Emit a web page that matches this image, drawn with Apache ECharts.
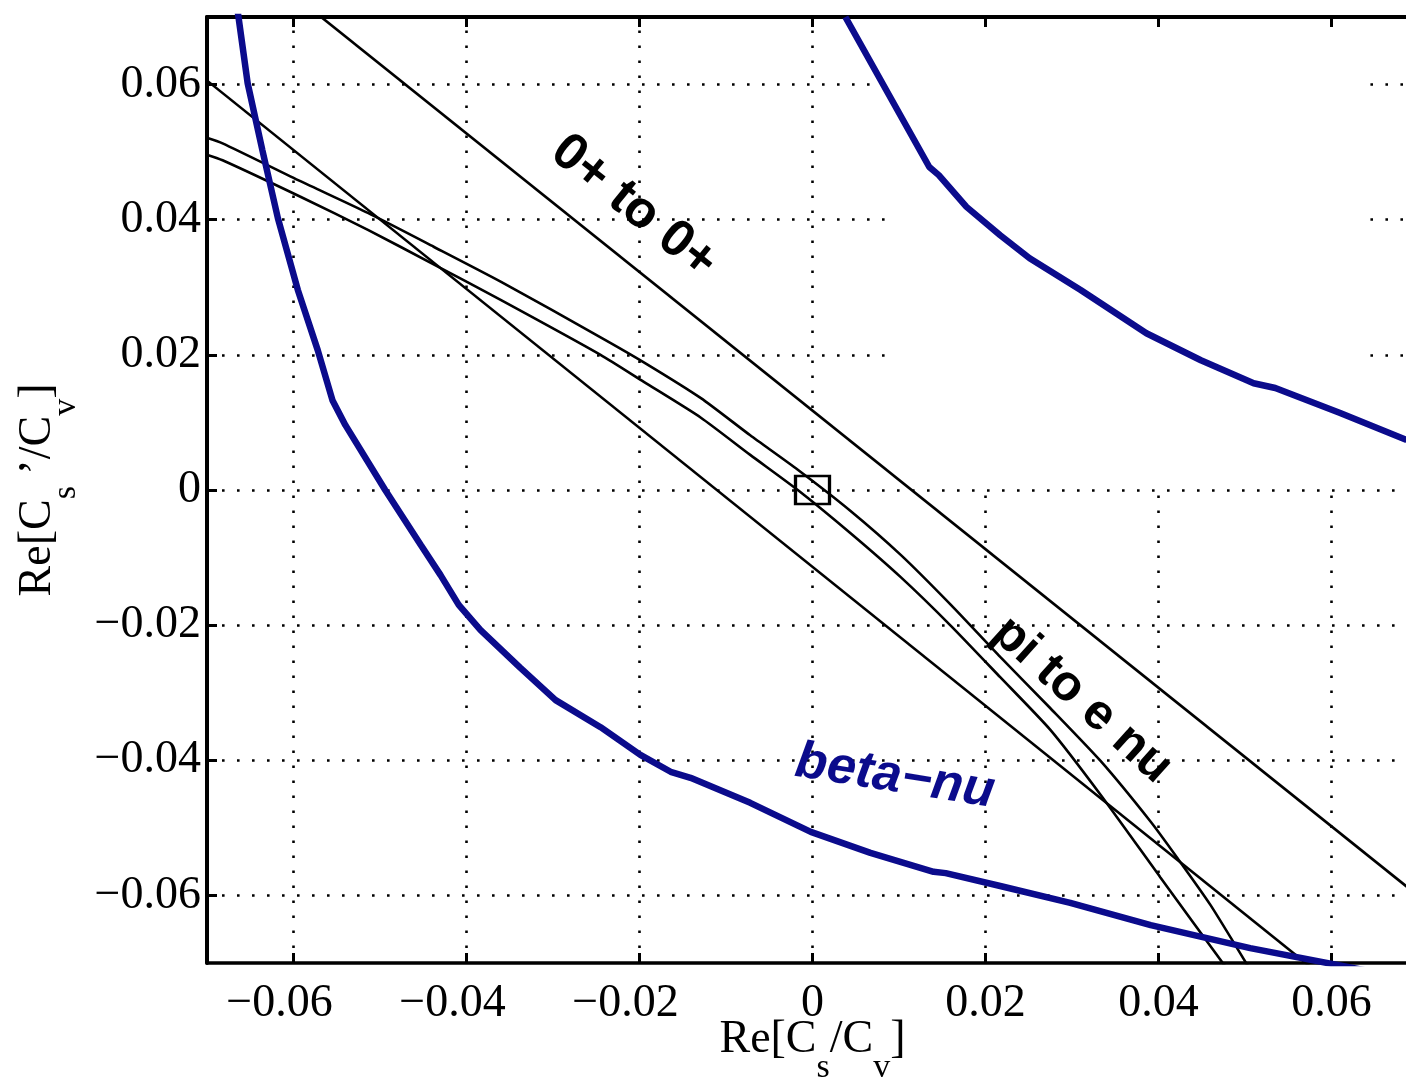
<!DOCTYPE html>
<html><head><meta charset="utf-8">
<script src="https://cdn.jsdelivr.net/npm/echarts@6/dist/echarts.min.js"></script>
<style>html,body{margin:0;padding:0;background:#fff}#c{width:1406px;height:1077px}</style>
</head><body><div id="c"></div>
<script>
// ---- data ----
const xTicks = [-0.06, -0.04, -0.02, 0, 0.02, 0.04, 0.06];
const yTicks = [-0.06, -0.04, -0.02, 0, 0.02, 0.04, 0.06];
const axisMin = -0.07, axisMax = 0.07;
// blank (erased) patch of the grid in the upper right
const gridGapX = [0.0085, 0.0645];
const gridGapYmin = 0.001;

// beta-nu constraint (blue), lower-left branch
const betaNuLower = [
  [-0.0665, 0.0713], [-0.0653, 0.0602], [-0.0636, 0.0503], [-0.0618, 0.0402],
  [-0.0595, 0.0296], [-0.0572, 0.0207], [-0.0555, 0.0133], [-0.0540, 0.0096],
  [-0.0494, 0.0000], [-0.0453, -0.0081], [-0.0430, -0.0126], [-0.0409, -0.0170],
  [-0.0384, -0.0207], [-0.0338, -0.0263], [-0.0297, -0.0311], [-0.0245, -0.0351],
  [-0.0199, -0.0392], [-0.0164, -0.0417], [-0.0141, -0.0426], [-0.0072, -0.0463],
  [-0.0002, -0.0506], [0.0067, -0.0537], [0.0140, -0.0565], [0.0154, -0.0567],
  [0.0217, -0.0586], [0.0298, -0.0611], [0.0391, -0.0644], [0.0506, -0.0678],
  [0.0672, -0.0719]
];
// beta-nu constraint (blue), upper-right branch
const betaNuUpper = [
  [0.0038, 0.0700], [0.0135, 0.0478], [0.0146, 0.0466], [0.0178, 0.0419],
  [0.0217, 0.0377], [0.0251, 0.0343], [0.0310, 0.0296], [0.0386, 0.0232],
  [0.0449, 0.0192], [0.0510, 0.0158], [0.0535, 0.0151], [0.0610, 0.0114],
  [0.0687, 0.0074]
];
// 0+ to 0+ band (straight lines)
const superallowedUpper = [[-0.0571, 0.0703], [0.0687, -0.0587]];
const superallowedLower = [[-0.0702, 0.0608], [0.0579, -0.0709]];
// pi to e nu band
const piUpper = [
  [-0.0702, 0.0522], [-0.0682, 0.0513], [-0.0592, 0.0457], [-0.0514, 0.0410],
  [-0.0438, 0.0360], [-0.0360, 0.0308], [-0.0245, 0.0226], [-0.0195, 0.0189],
  [-0.0129, 0.0136], [-0.0072, 0.0081], [-0.0017, 0.0030], [0.0044, -0.0031],
  [0.0102, -0.0096], [0.0160, -0.0170], [0.0217, -0.0247], [0.0275, -0.0323],
  [0.0333, -0.0401], [0.0391, -0.0491], [0.0422, -0.0545], [0.0460, -0.0614],
  [0.0506, -0.0710]
];
const piLower = [
  [-0.0702, 0.0497], [-0.0682, 0.0488], [-0.0592, 0.0434], [-0.0514, 0.0385],
  [-0.0438, 0.0334], [-0.0360, 0.0281], [-0.0245, 0.0200], [-0.0195, 0.0160],
  [-0.0129, 0.0107], [-0.0072, 0.0052], [-0.0017, 0.0000], [0.0044, -0.0064],
  [0.0102, -0.0129], [0.0160, -0.0201], [0.0217, -0.0277], [0.0275, -0.0355],
  [0.0333, -0.0451], [0.0402, -0.0573], [0.0480, -0.0710]
];
// Standard Model point
const smPoint = [[0, 0]];

// ---- styling ----
const BLUE = '#0b0b8c';
const SERIF = '"Liberation Serif", "Times New Roman", serif';
const SANS = '"Liberation Sans", Arial, sans-serif';

function fmt(v) {
  if (Math.abs(v) < 1e-9) return '0';
  const s = Math.abs(v).toFixed(2);
  return v < 0 ? '{neg|\u2212' + s + '}' : s;
}
function fmtY(v) {
  if (Math.abs(v) < 1e-9) return '0';
  const s = Math.abs(v).toFixed(2);
  return v < 0 ? '\u2212' + s : s;
}

// grid segments built from the tick arrays
const gridSegs = [];
xTicks.forEach(x => {
  if (x > gridGapX[0] && x < gridGapX[1]) gridSegs.push({coords: [[x, axisMin], [x, gridGapYmin]]});
  else gridSegs.push({coords: [[x, axisMin], [x, axisMax]]});
});
yTicks.forEach(y => {
  if (y > gridGapYmin) {
    gridSegs.push({coords: [[axisMin, y], [gridGapX[0], y]]});
    gridSegs.push({coords: [[gridGapX[1], y], [axisMax, y]]});
  } else gridSegs.push({coords: [[axisMin, y], [axisMax, y]]});
});

const nameStyle = {
  fontFamily: SERIF, fontSize: 46, color: '#000',
  rich: {
    n: {fontFamily: SERIF, fontSize: 46, lineHeight: 50, color: '#000'},
    s: {fontFamily: SERIF, fontSize: 34, lineHeight: 50, padding: [56, 0, 0, 0], color: '#000'}
  }
};

const chart = echarts.init(document.getElementById('c'), null, {renderer: 'canvas'});
const blackLine = {color: '#000', width: 2.6};
chart.setOption({
  animation: false,
  backgroundColor: '#fff',
  grid: {left: 207, top: 17, width: 1211, height: 946, containLabel: false, outerBoundsMode: 'none'},
  xAxis: [{
    type: 'value', min: axisMin, max: axisMax, position: 'bottom',
    axisLine: {show: true, onZero: false, lineStyle: {color: '#000', width: 3.5}},
    axisTick: {show: true, inside: true, length: 10, customValues: xTicks, lineStyle: {color: '#000', width: 3}},
    axisLabel: {show: true, customValues: xTicks, formatter: fmt, margin: 18,
      fontFamily: SERIF, fontSize: 46, color: '#000',
      rich: {neg: {fontFamily: SERIF, fontSize: 46, color: '#000', padding: [0, 28, 0, 0]}}},
    splitLine: {show: false},
    name: '{n|Re[C}{s|s}{n|/C}{s|v}{n|]}', nameLocation: 'middle', nameGap: 52,
    nameMoveOverlap: false,
    nameTextStyle: nameStyle
  }, {
    type: 'value', min: axisMin, max: axisMax, position: 'top',
    axisLine: {show: true, onZero: false, lineStyle: {color: '#000', width: 4}},
    axisTick: {show: true, inside: true, length: 10, customValues: xTicks, lineStyle: {color: '#000', width: 3}},
    axisLabel: {show: false}, splitLine: {show: false}
  }],
  yAxis: [{
    type: 'value', min: axisMin, max: axisMax, position: 'left',
    axisLine: {show: true, onZero: false, lineStyle: {color: '#000', width: 4}},
    axisTick: {show: true, inside: true, length: 10, customValues: yTicks, lineStyle: {color: '#000', width: 3}},
    axisLabel: {show: true, customValues: yTicks, formatter: fmtY, margin: 6,
      fontFamily: SERIF, fontSize: 46, color: '#000'},
    splitLine: {show: false},
    name: '{n|Re[C}{s|s}{n| \u2019/C}{s|v}{n|]}', nameLocation: 'middle', nameGap: 144,
    nameMoveOverlap: false,
    nameTextStyle: nameStyle
  }],
  series: [
    {type: 'lines', coordinateSystem: 'cartesian2d', xAxisIndex: 0, yAxisIndex: 0, silent: true, z: 1,
      lineStyle: {color: '#000', width: 2.6, type: [2.6, 12.4], opacity: 1}, data: gridSegs},
    {type: 'line', name: '0+ to 0+ upper', data: superallowedUpper, showSymbol: false, lineStyle: blackLine, silent: true, z: 3},
    {type: 'line', name: '0+ to 0+ lower', data: superallowedLower, showSymbol: false, lineStyle: blackLine, silent: true, z: 3},
    {type: 'line', name: 'pi upper', data: piUpper, showSymbol: false, smooth: 0.2, lineStyle: blackLine, silent: true, z: 3},
    {type: 'line', name: 'pi lower', data: piLower, showSymbol: false, smooth: 0.2, lineStyle: blackLine, silent: true, z: 3},
    {type: 'line', name: 'beta-nu lower', data: betaNuLower, showSymbol: false, lineStyle: {color: BLUE, width: 6.5}, silent: true, z: 4},
    {type: 'line', name: 'beta-nu upper', data: betaNuUpper, showSymbol: false, lineStyle: {color: BLUE, width: 6.5}, silent: true, z: 4},
    {type: 'scatter', name: 'SM', data: smPoint, symbol: 'rect', symbolSize: [34, 28], silent: true, z: 3,
      itemStyle: {color: 'rgba(0,0,0,0)', borderColor: '#000', borderWidth: 3, opacity: 1}}
  ],
  graphic: [
    {type: 'text', x: 634, y: 207, rotation: -39 * Math.PI / 180, z: 10,
      style: {text: '0+ to 0+', font: 'bold 52px ' + SANS, fill: '#000', align: 'center', verticalAlign: 'middle'}},
    {type: 'text', x: 1082, y: 700, rotation: -42 * Math.PI / 180, z: 10,
      style: {text: 'pi to e nu', font: 'bold 50px ' + SANS, fill: '#000', align: 'center', verticalAlign: 'middle'}},
    {type: 'text', x: 895, y: 777, rotation: -9 * Math.PI / 180, z: 10,
      style: {text: 'beta\u2212nu', font: 'italic bold 52px ' + SANS, fill: BLUE, align: 'center', verticalAlign: 'middle'}}
  ]
});
</script>
</body></html>
